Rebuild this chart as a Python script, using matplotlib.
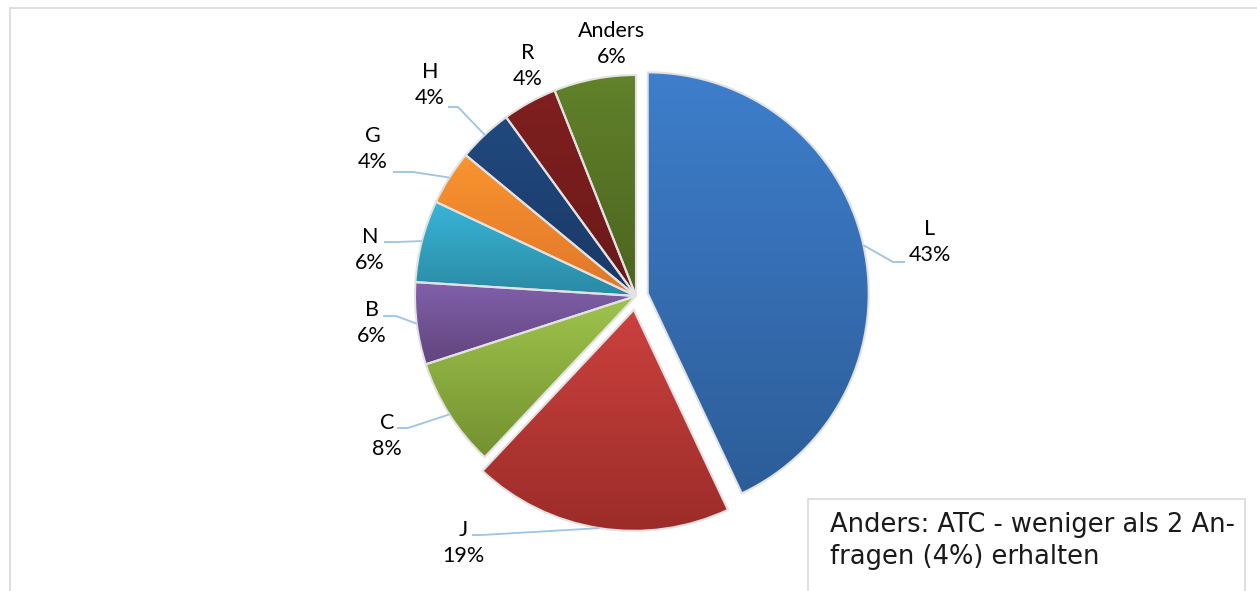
import numpy as np
import matplotlib
matplotlib.use("Agg")
import matplotlib.pyplot as plt
from matplotlib.colors import to_rgb
from matplotlib.patches import Rectangle

# data
labels = ["L", "J", "C", "B", "N", "G", "H", "R", "Anders"]
shares = [43, 19, 8, 6, 6, 4, 4, 4, 6]
note = "Anders: ATC - weniger als 2 An-\nfragen (4%) erhalten"

# styling (gradient top -> bottom for each slice)
top_cols = ["#3e7ecc", "#cb413e", "#9fc44d", "#8061ab", "#38b5d8", "#f9942f", "#21497f", "#801f1f", "#61812a"]
bot_cols = ["#2c5d98", "#9c2c29", "#74912f", "#62447e", "#2a8aa4", "#e0762a", "#1a3865", "#6a1919", "#4c6420"]
explode = [12, 14, 0, 0, 0, 0, 0, 0, 0]   # offset in px

W, H = 1257, 591
def py(y):
    return H - y

# label centres and leader-line anchor (px, image coords); None = no leader
label_xy = [(930, 242), (463, 543), (387, 436), (372, 323), (370, 250),
            (373, 149), (430, 85), (528, 66), (612, 44)]
leader_end = [(905, 262, -12), (472, 535, 10), (397, 428, 11), (383, 316, 13),
              (384, 242, 13), (393, 172, 20), (448, 107, 10), None, None]

fig = plt.figure(figsize=(W / 100, H / 100), dpi=100)
ax = fig.add_axes([0, 0, 1, 1])

center = (636, py(296))
R = 221
wedges, _ = ax.pie(shares, explode=explode, startangle=90, counterclock=False,
                   center=center, radius=R,
                   wedgeprops=dict(edgecolor="#e2e2e2", linewidth=1.5))

for w, c0, c1 in zip(wedges, top_cols, bot_cols):
    path = w.get_patch_transform().transform_path(w.get_path())
    ext = path.get_extents()
    t = np.linspace(0, 1, 64)[:, None]
    grad = (1 - t) * np.array(to_rgb(c0)) + t * np.array(to_rgb(c1))
    im = ax.imshow(grad[:, None, :], extent=(ext.x0, ext.x1, ext.y0, ext.y1),
                   origin="upper", aspect="auto", interpolation="bilinear", zorder=1)
    im.set_clip_path(w)
    w.set_facecolor("none")
    w.set_zorder(2)

# labels and leader lines
for i, (w, lab, val) in enumerate(zip(wedges, labels, shares)):
    lx, ly = label_xy[i]
    ax.text(lx, py(ly), f"{lab}\n{val}%", ha="center", va="center",
            fontsize=15.5, family="Lato", linespacing=1.35, color="#000000", zorder=5)
    le = leader_end[i]
    if le is None:
        continue
    mid = np.deg2rad((w.theta1 + w.theta2) / 2)
    cx, cy = w.center
    ex, ey = cx + w.r * np.cos(mid), cy + w.r * np.sin(mid)
    ax.plot([le[0], le[0] + le[2], ex], [py(le[1]), py(le[1]), ey],
            color="#9dc3e6", lw=1.3, zorder=4, solid_capstyle="butt")

# chart frame and note box
ax.add_patch(Rectangle((10, -20), W + 50, py(8) + 20, fill=False,
                       edgecolor="#d9d9d9", lw=1.2, zorder=0))
ax.add_patch(Rectangle((808, -20), 1245 - 808, py(499) + 20, facecolor="white",
                       edgecolor="#d9d9d9", lw=1.2, zorder=6))
ax.text(830, py(541), note, ha="left", va="center", fontsize=18.5,
        family="DejaVu Sans", linespacing=1.25, color="#1a1a1a", zorder=7)

ax.set_xlim(0, W)
ax.set_ylim(0, H)
ax.set_aspect("equal")
ax.axis("off")
fig.savefig("out.png", dpi=100)
